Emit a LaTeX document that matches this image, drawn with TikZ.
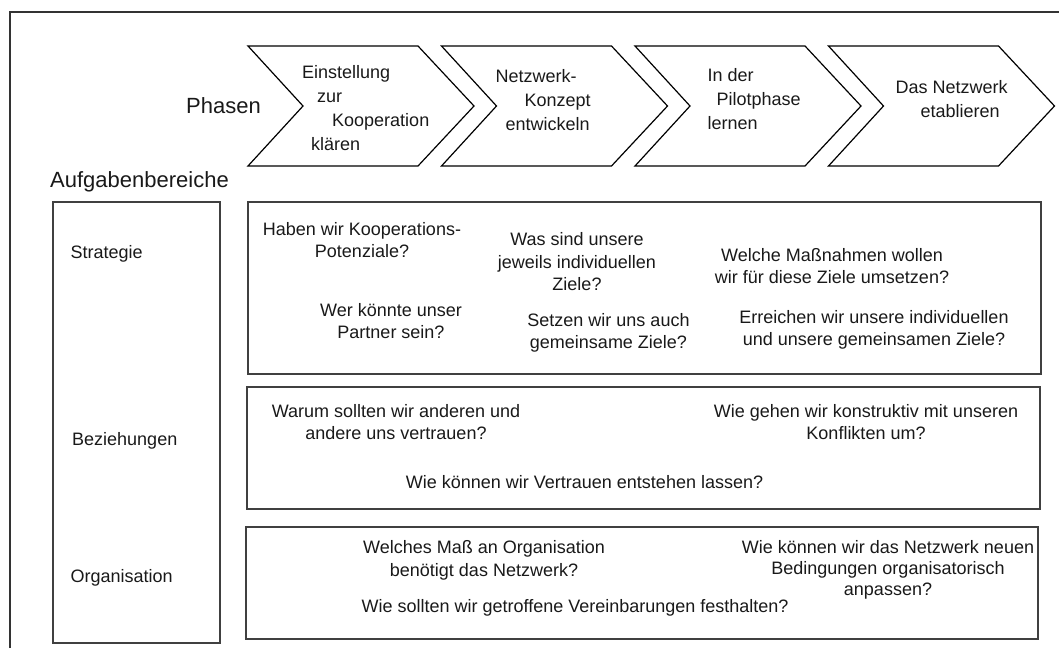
\documentclass[tikz,border=0pt]{standalone}
\usepackage{fontspec}
\setmainfont{Liberation Sans}
\begin{document}
\begin{tikzpicture}[x=1pt,y=-1pt,
  frameline/.style={draw=black!80,line width=1.3pt},
  chevron/.style={draw=black,line width=1.2pt,line join=miter},
  areabox/.style={draw=black!75,line width=1.2pt},
  body/.style={inner sep=0pt,text=black!90,align=center,anchor=base,
    font=\fontsize{18}{22.5}\selectfont},
  chevtext/.style={inner sep=0pt,text=black!90,align=left,anchor=base west,
    font=\fontsize{18}{24}\selectfont},
  heading/.style={inner sep=0pt,text=black!90,anchor=base west,
    font=\fontsize{22}{26}\selectfont},
  arealabel/.style={inner sep=0pt,text=black!90,anchor=base west,
    font=\fontsize{18}{22}\selectfont}]
\useasboundingbox (0,0) rectangle (1059,648);

% outer frame (open to the right and bottom)
\draw[frameline] (10,648) -- (10,12) -- (1059,12);

% phase chevrons
\foreach \i in {0,1,2,3}{
  \pgfmathsetmacro{\tx}{248+193.5*\i}
  \draw[chevron] (\tx,46) -- (\tx+170,46) -- (\tx+226,106) -- (\tx+170,166)
    -- (\tx,166) -- (\tx+55,106) -- cycle;
}

% multi-line nodes are placed by the baseline of their last line
\node[heading] (phasen) at (186,113.5) {Phasen};
\node[chevtext] (p1) at (302,150.5)
  {Einstellung\\\hspace*{15pt}zur\\\hspace*{30pt}Kooperation\\\hspace*{9pt}klären};
\node[chevtext] (p2) at (495.5,130)
  {Netzwerk-\\\hspace*{29pt}Konzept\\\hspace*{10pt}entwickeln};
\node[chevtext] (p3) at (707.5,129.5)
  {In der\\\hspace*{9pt}Pilotphase\\lernen};
\node[chevtext] (p4) at (895.5,117)
  {Das Netzwerk\\\hspace*{25pt}etablieren};

\node[heading] (aufgaben) at (50,187.5) {Aufgabenbereiche};

% task areas
\draw[areabox] (53,202) rectangle (220,643);
\draw[areabox] (248,202) rectangle (1041,374);
\draw[areabox] (247,387) rectangle (1040,509);
\draw[areabox] (246,527) rectangle (1038,639);

\node[arealabel] (strat) at (70.5,258) {Strategie};
\node[arealabel] (bez) at (72,445) {Beziehungen};
\node[arealabel] (org) at (70.5,582) {Organisation};

% Strategie
\node[body] (s1) at (362,257.5) {Haben wir Kooperations-\\Potenziale?};
\node[body] (s2) at (391,338.5) {Wer könnte unser\\Partner sein?};
\node[body] (s3) at (577,290.5) {Was sind unsere\\jeweils individuellen\\Ziele?};
\node[body] (s4) at (608.5,348.5) {Setzen wir uns auch\\gemeinsame Ziele?};
\node[body] (s5) at (832,283.5) {Welche Maßnahmen wollen\\wir für diese Ziele umsetzen?};
\node[body] (s6) at (874,345.5) {Erreichen wir unsere individuellen\\und unsere gemeinsamen Ziele?};

% Beziehungen
\node[body] (b1) at (396,439.5) {Warum sollten wir anderen und\\andere uns vertrauen?};
\node[body] (b2) at (866,439.5) {Wie gehen wir konstruktiv mit unseren\\Konflikten um?};
\node[body] (b3) at (584.5,488) {Wie können wir Vertrauen entstehen lassen?};

% Organisation
\node[body] (o1) at (484,576) {Welches Maß an Organisation\\benötigt das Netzwerk?};
\node[body,font=\fontsize{18}{21}\selectfont] (o2) at (888,595)
  {Wie können wir das Netzwerk neuen\\Bedingungen organisatorisch\\anpassen?};
\node[body] (o3) at (575,612) {Wie sollten wir getroffene Vereinbarungen festhalten?};
\end{tikzpicture}
\end{document}
